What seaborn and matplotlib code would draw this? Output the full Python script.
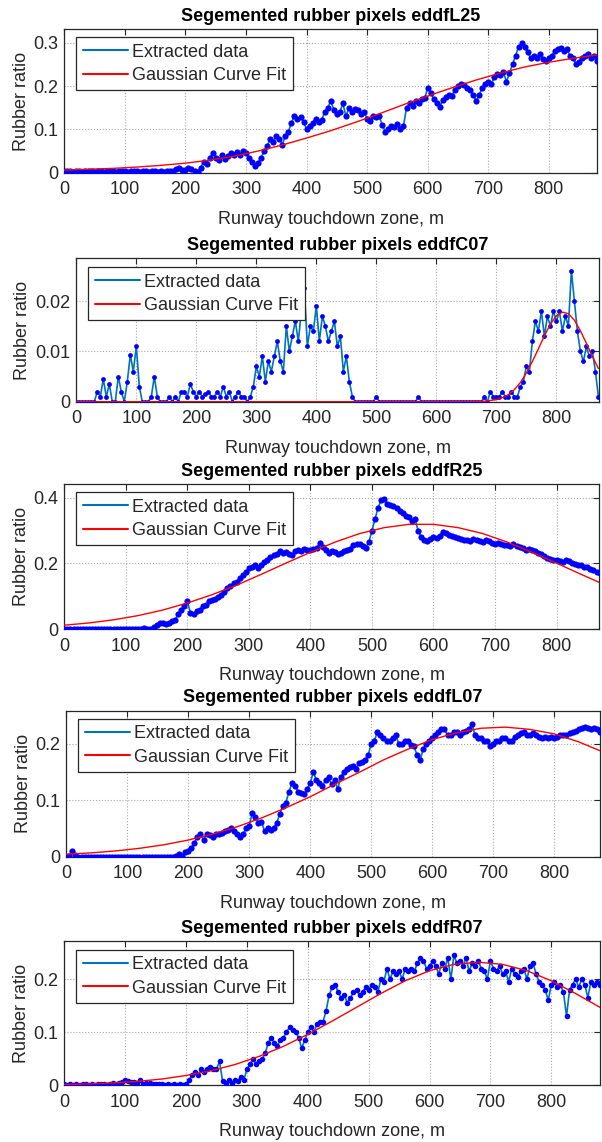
import numpy as np
import pandas as pd
import matplotlib
matplotlib.use("Agg")
import matplotlib.pyplot as plt
import seaborn as sns

# ---------------- data ----------------
titles = ["Segemented rubber pixels eddfL25", "Segemented rubber pixels eddfC07",
          "Segemented rubber pixels eddfR25", "Segemented rubber pixels eddfL07",
          "Segemented rubber pixels eddfR07"]
xlabel_text = "Runway touchdown zone, m"
ylabel_text = "Rubber ratio"
legend_labels = ["Extracted data", "Gaussian Curve Fit"]

x_ticks = [0, 100, 200, 300, 400, 500, 600, 700, 800]
y_ticks_L25 = [0, 0.1, 0.2, 0.3]
y_ticklabels_L25 = ["0", "0.1", "0.2", "0.3"]
y_ticks_C07 = [0, 0.01, 0.02]
y_ticklabels_C07 = ["0", "0.01", "0.02"]
y_ticks_R25 = [0, 0.2, 0.4]
y_ticklabels_R25 = ["0", "0.2", "0.4"]
y_ticks_L07 = [0, 0.1, 0.2]
y_ticklabels_L07 = ["0", "0.1", "0.2"]
y_ticks_R07 = [0, 0.1, 0.2]
y_ticklabels_R07 = ["0", "0.1", "0.2"]

# extracted data, sampled every 5 m
data_L25 = [
    0.004,0.003,0.005,0.002,0.004,0.003,0.002,0.004,0.003,0.005,0.002,0.003,0.004,0.002,0.003,0.005,0.003,0.002,0.004,0.003,
    0.004,0.002,0.003,0.005,0.003,0.002,0.004,0.003,0.002,0.003,0.004,0.002,0.003,0.002,0.004,0.003,0.005,0.008,0.010,0.007,
    0.006,0.010,0.008,0.003,0.001,0.012,0.025,0.020,0.035,0.045,0.035,0.030,0.040,0.032,0.038,0.045,0.042,0.048,0.040,0.050,
    0.045,0.035,0.025,0.015,0.022,0.035,0.050,0.062,0.078,0.072,0.085,0.078,0.065,0.085,0.095,0.115,0.132,0.125,0.128,0.118,
    0.100,0.108,0.115,0.125,0.118,0.122,0.140,0.150,0.165,0.145,0.135,0.140,0.160,0.130,0.150,0.140,0.148,0.145,0.135,0.140,
    0.125,0.120,0.132,0.128,0.130,0.110,0.095,0.100,0.108,0.105,0.112,0.100,0.108,0.150,0.160,0.155,0.165,0.160,0.170,0.172,
    0.195,0.185,0.170,0.160,0.152,0.168,0.175,0.180,0.178,0.192,0.200,0.205,0.202,0.195,0.190,0.180,0.165,0.180,0.195,0.205,
    0.210,0.205,0.220,0.228,0.225,0.232,0.210,0.230,0.250,0.270,0.290,0.300,0.290,0.278,0.265,0.270,0.265,0.275,0.262,0.258,
    0.265,0.270,0.282,0.285,0.288,0.280,0.285,0.270,0.265,0.250,0.255,0.265,0.270,0.275,0.265,0.270,0.258]
data_C07 = [
    0,0,0,0,0,0,0,0.002,0.001,0.0045,0.001,0.0035,0,0,0.005,0.002,0,0.004,0.0093,0.006,
    0.011,0.003,0,0,0,0.001,0.005,0.001,0,0,0,0.001,0,0.001,0,0.002,0.002,0.001,0.0035,0.002,
    0.001,0.002,0.001,0.0015,0.002,0.001,0.001,0.002,0.001,0.003,0.001,0.002,0,0.001,0.002,0.001,0.001,0,0.001,0.003,
    0.007,0.005,0.009,0.004,0.008,0.006,0.009,0.012,0.008,0.006,0.015,0.010,0.013,0.016,0.012,0.018,0.0225,0.011,0.015,0.014,
    0.019,0.012,0.017,0.015,0.012,0.014,0.016,0.011,0.013,0.006,0.009,0.004,0.001,0,0,0,0,0,0,0,
    0.001,0,0,0,0,0,0,0,0,0,0,0,0,0,0.001,0,0,0,0,0,
    0,0,0,0,0,0,0,0,0,0,0,0,0,0,0,0,0.001,0,0.002,0.001,
    0.001,0.001,0.002,0.001,0.001,0.002,0.001,0.001,0.003,0.004,0.007,0.006,0.012,0.016,0.014,0.018,0.013,0.017,0.015,0.018,
    0.016,0.018,0.014,0.017,0.015,0.026,0.020,0.014,0.010,0.008,0.011,0.009,0.010,0.006,0.001]
data_R25 = [
    0.001,0.0,0.001,0.0,0.001,0.0,0.001,0.0,0.001,0.0,0.001,0.0,0.001,0.0,0.001,0.0,0.001,0.0,0.001,0.0,
    0.001,0.0,0.001,0.0,0.001,0.002,0.004,0.001,0.002,0.008,0.012,0.018,0.020,0.015,0.018,0.025,0.028,0.045,0.060,0.070,
    0.085,0.050,0.045,0.055,0.060,0.070,0.075,0.085,0.090,0.092,0.098,0.105,0.112,0.125,0.132,0.140,0.145,0.155,0.165,0.175,
    0.185,0.190,0.195,0.185,0.195,0.205,0.210,0.220,0.225,0.228,0.238,0.232,0.235,0.228,0.225,0.238,0.240,0.238,0.245,0.240,
    0.240,0.245,0.248,0.262,0.250,0.240,0.232,0.238,0.235,0.230,0.232,0.238,0.240,0.245,0.255,0.258,0.260,0.252,0.248,0.265,
    0.300,0.335,0.370,0.392,0.395,0.380,0.378,0.375,0.368,0.360,0.352,0.345,0.340,0.330,0.335,0.300,0.280,0.272,0.268,0.275,
    0.280,0.278,0.285,0.295,0.292,0.288,0.285,0.282,0.278,0.275,0.272,0.270,0.268,0.275,0.272,0.268,0.265,0.270,0.268,0.262,
    0.260,0.262,0.258,0.255,0.255,0.252,0.258,0.252,0.250,0.248,0.242,0.245,0.240,0.238,0.232,0.228,0.222,0.218,0.215,0.212,
    0.210,0.208,0.205,0.210,0.208,0.200,0.198,0.195,0.195,0.190,0.188,0.182,0.180,0.175,0.172]
data_L07 = [
    0.0,0.002,0.010,0.003,0,0,0,0,0,0,0,0,0,0,0,0,0,0,0,0,
    0,0,0,0,0,0,0,0,0,0,0,0,0,0,0,0,0.002,0.005,0.001,0.008,
    0.010,0.015,0.025,0.035,0.040,0.030,0.040,0.038,0.035,0.040,0.040,0.042,0.045,0.048,0.050,0.045,0.040,0.035,0.040,0.050,
    0.055,0.078,0.070,0.060,0.062,0.045,0.050,0.048,0.050,0.060,0.075,0.090,0.095,0.115,0.130,0.125,0.115,0.112,0.110,0.120,
    0.130,0.150,0.135,0.130,0.125,0.135,0.140,0.128,0.135,0.120,0.140,0.150,0.155,0.158,0.160,0.155,0.165,0.168,0.170,0.180,
    0.200,0.205,0.220,0.215,0.210,0.205,0.205,0.210,0.215,0.200,0.200,0.205,0.205,0.198,0.195,0.180,0.170,0.190,0.200,0.205,
    0.210,0.215,0.220,0.225,0.225,0.215,0.215,0.220,0.220,0.215,0.220,0.222,0.225,0.235,0.215,0.210,0.210,0.205,0.205,0.195,
    0.200,0.205,0.205,0.210,0.210,0.205,0.205,0.212,0.215,0.218,0.220,0.215,0.215,0.218,0.215,0.212,0.210,0.212,0.210,0.212,
    0.210,0.212,0.215,0.215,0.215,0.218,0.220,0.222,0.225,0.228,0.230,0.228,0.225,0.228,0.225,0.220]
data_R07 = [
    0.002,0.001,0.003,0.001,0.002,0.001,0.002,0.003,0.001,0.002,0.001,0.002,0.003,0.002,0.001,0.003,0.004,0.003,0.005,0.006,
    0.010,0.008,0.007,0.006,0.005,0.010,0.003,0.004,0.005,0.003,0.002,0.003,0.002,0.001,0.002,0.001,0.002,0.001,0.002,0.001,
    0.002,0.010,0.020,0.025,0.020,0.030,0.025,0.030,0.035,0.030,0.030,0.045,0.008,0.005,0.010,0.005,0.010,0.008,0.015,0.010,
    0.030,0.040,0.050,0.040,0.045,0.050,0.060,0.080,0.090,0.080,0.075,0.085,0.090,0.100,0.110,0.105,0.100,0.090,0.070,0.085,
    0.100,0.110,0.100,0.115,0.120,0.120,0.140,0.170,0.185,0.190,0.175,0.165,0.170,0.155,0.165,0.175,0.180,0.170,0.175,0.185,
    0.180,0.190,0.185,0.175,0.200,0.195,0.220,0.200,0.215,0.210,0.215,0.200,0.220,0.215,0.220,0.215,0.230,0.240,0.235,0.220,
    0.225,0.235,0.225,0.210,0.230,0.220,0.240,0.200,0.245,0.230,0.235,0.225,0.240,0.215,0.230,0.225,0.235,0.220,0.215,0.200,
    0.235,0.220,0.215,0.225,0.210,0.215,0.195,0.220,0.210,0.205,0.215,0.220,0.200,0.225,0.230,0.210,0.195,0.190,0.180,0.160,
    0.190,0.195,0.185,0.190,0.175,0.130,0.180,0.190,0.200,0.185,0.200,0.190,0.165,0.195,0.190,0.195,0.190]

# Gaussian curve fit values, read at 40 m steps
fit_x = [0, 40, 80, 120, 160, 200, 240, 280, 320, 360, 400, 440, 480, 520, 560, 600, 640, 680, 720, 760, 800, 840, 880]
fit_L25 = [0.006,0.008,0.010,0.013,0.017,0.022,0.029,0.038,0.050,0.064,0.080,0.097,0.116,0.136,0.157,0.177,0.196,0.214,0.230,0.244,0.255,0.264,0.272]
fit_R25 = [0.0125,0.0193,0.0288,0.0417,0.0585,0.080,0.105,0.134,0.167,0.201,0.234,0.265,0.291,0.309,0.319,0.319,0.309,0.291,0.265,0.234,0.201,0.167,0.134]
fit_L07 = [0.0044,0.0067,0.0101,0.0148,0.0211,0.0294,0.0399,0.0529,0.0684,0.0864,0.106,0.128,0.149,0.171,0.190,0.207,0.219,0.227,0.229,0.225,0.217,0.203,0.185]
fit_R07 = [0.0015,0.0027,0.0045,0.0074,0.0118,0.0185,0.0272,0.0390,0.0545,0.0735,0.096,0.121,0.147,0.173,0.197,0.216,0.228,0.232,0.228,0.216,0.197,0.173,0.147]
fit_x_C07 = [0, 100, 200, 300, 400, 500, 600, 650, 680, 700, 710, 720, 730, 740, 750, 760, 770, 780, 790, 800, 810, 820, 830, 840, 850, 860, 870]
fit_C07 = [0, 0, 0, 0, 0, 0, 0, 0.00001, 0.0001, 0.0004, 0.0008, 0.0014, 0.0024, 0.0038, 0.0057, 0.0080, 0.0105, 0.0131, 0.0154, 0.0171, 0.0178, 0.0175, 0.0162, 0.0141, 0.0116, 0.0090, 0.0066]

# ---------------- style ----------------
sns.set_style("white")
plt.rcParams["font.family"] = ["Liberation Sans", "DejaVu Sans"]
plt.rcParams["axes.unicode_minus"] = False

W, H = 602, 1142
fig = plt.figure(figsize=(W / 100, H / 100), dpi=100)

def px_axes(l, t, r, b):
    return fig.add_axes([l / W, 1 - b / H, (r - l) / W, (b - t) / H])

panels = [
    dict(box=(64.3, 29.3, 597.3, 172.7), xmax=880, ymax=0.331, data=data_L25, step=5, ms=20,
         fx=fit_x, fy=fit_L25, yt=y_ticks_L25, ytl=y_ticklabels_L25, leg=(76.3, 37.3)),
    dict(box=(76.3, 258.3, 599.0, 401.7), xmax=871, ymax=0.0285, data=data_C07, step=5, ms=12,
         fx=fit_x_C07, fy=fit_C07, yt=y_ticks_C07, ytl=y_ticklabels_C07, leg=(88.3, 267.3)),
    dict(box=(64.3, 484.3, 599.0, 629.3), xmax=869, ymax=0.4407, data=data_R25, step=5, ms=20,
         fx=fit_x, fy=fit_R25, yt=y_ticks_R25, ytl=y_ticklabels_R25, leg=(76.3, 492.3)),
    dict(box=(66.3, 710.7, 600.0, 856.7), xmax=875, ymax=0.258, data=data_L07, step=5, ms=20,
         fx=fit_x, fy=fit_L07, yt=y_ticks_L07, ytl=y_ticklabels_L07, leg=(78.3, 719.0)),
    dict(box=(64.3, 941.0, 600.0, 1085.3), xmax=880, ymax=0.272, data=data_R07, step=5, ms=16,
         fx=fit_x, fy=fit_R07, yt=y_ticks_R07, ytl=y_ticklabels_R07, leg=(76.3, 950.0)),
]

FS = 13
dark = "#262626"
for title, p in zip(titles, panels):
    l, t, r, b = p["box"]
    ax = px_axes(l, t, r, b)
    xs = np.arange(len(p["data"])) * p["step"]
    df = pd.DataFrame({"x": xs, "y": p["data"]})
    sns.lineplot(data=df, x="x", y="y", ax=ax, color="#0072BD", linewidth=1.2,
                 label=legend_labels[0], zorder=2, estimator=None, sort=False)
    sns.scatterplot(data=df, x="x", y="y", ax=ax, color="#0000FF", s=p["ms"],
                    linewidth=0, zorder=3, legend=False)
    dff = pd.DataFrame({"x": p["fx"], "y": p["fy"]})
    sns.lineplot(data=dff, x="x", y="y", ax=ax, color="#FF0000", linewidth=1.0,
                 label=legend_labels[1], zorder=4, estimator=None, sort=False)

    ax.set_xlim(0, p["xmax"])
    ax.set_ylim(0, p["ymax"])
    ax.set_xticks(x_ticks)
    ax.set_xticklabels([str(v) for v in x_ticks])
    ax.set_yticks(p["yt"])
    ax.set_yticklabels(p["ytl"])
    ax.grid(True, linestyle=":", color="#a8a8a8", linewidth=0.8)
    ax.set_axisbelow(True)
    ax.tick_params(direction="in", top=True, right=True, length=4, width=0.8,
                   labelsize=FS, colors=dark)
    ax.tick_params(axis="x", pad=6)
    ax.tick_params(axis="y", pad=4)
    for s in ax.spines.values():
        s.set_color(dark)
        s.set_linewidth(0.9)
    ax.set_title(title, fontsize=FS, fontweight="bold", pad=6, color="black")
    ax.set_xlabel(xlabel_text, fontsize=FS, color=dark, labelpad=9)
    ax.set_ylabel(ylabel_text, fontsize=FS, color=dark, labelpad=3)

    lx, ly = p["leg"]
    ax_w, ax_h = r - l, b - t
    handles, labels = ax.get_legend_handles_labels()
    leg = ax.legend(handles, labels, loc="upper left",
                    bbox_to_anchor=((lx - l) / ax_w, (b - ly) / ax_h),
                    borderaxespad=0, fontsize=FS, frameon=True, fancybox=False,
                    framealpha=1, edgecolor=dark, borderpad=0.35, labelspacing=0.35,
                    handlelength=2.5, handletextpad=0.25)
    leg.get_frame().set_linewidth(0.9)
    for ln in leg.get_lines():
        ln.set_linewidth(1.5)

fig.savefig("out.png", dpi=100)
